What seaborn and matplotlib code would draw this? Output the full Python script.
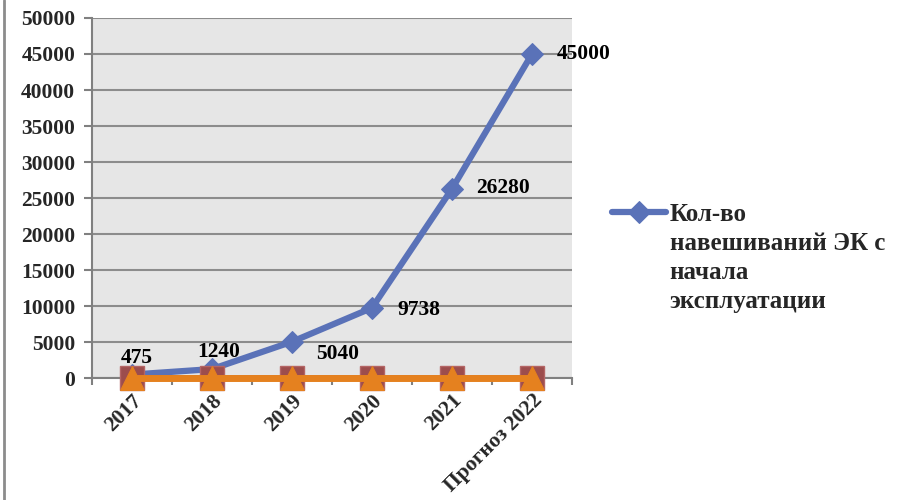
import matplotlib
matplotlib.use("Agg")
import matplotlib.pyplot as plt
from matplotlib.lines import Line2D
from matplotlib.font_manager import FontProperties
import seaborn as sns
import pandas as pd

# Chart data
categories = ["2017", "2018", "2019", "2020", "2021", "Прогноз 2022"]
hangings_total = [475, 1240, 5040, 9738, 26280, 45000]
series_2 = [0, 0, 0, 0, 0, 0]
series_3 = [0, 0, 0, 0, 0, 0]
legend_label = "Кол-во\nнавешиваний ЭК с\nначала\nэксплуатации"
y_ticks = list(range(0, 50001, 5000))

# label offsets in pixels (Excel-like placement)
label_offsets = [(5, 17), (7, 17), (46, -12), (47, -2), (51, 1), (52, 0)]

sns.set_theme(style="white")
plt.rcParams["font.family"] = ["Liberation Serif", "DejaVu Serif"]
plt.rcParams["font.weight"] = "bold"

FS = 15.5
bold_font = FontProperties(family="Liberation Serif", weight="bold", size=FS)
legend_font = FontProperties(family="Liberation Serif", weight="bold", size=18)

pos = list(range(len(categories)))
df = pd.DataFrame({"x": pos, "total": hangings_total, "s2": series_2, "s3": series_3})

fig = plt.figure(figsize=(9.08, 5.0), dpi=100)
ax = fig.add_axes([92 / 908, 122 / 500, 480 / 908, 360 / 500])
ax.set_facecolor("#E6E6E6")

blue = "#5A72B8"
orange = "#E5811F"
brown = "#9C4D4D"

sns.lineplot(data=df, x="x", y="total", ax=ax, color=blue, linewidth=4.5,
             marker="D", markersize=11, markerfacecolor=blue,
             markeredgecolor=blue, label=legend_label, zorder=3, clip_on=False)
sns.lineplot(data=df, x="x", y="s2", ax=ax, color=brown, linewidth=4,
             marker="s", markersize=17, markerfacecolor=brown,
             markeredgecolor="#B46565", markeredgewidth=1, zorder=4,
             clip_on=False)
sns.lineplot(data=df, x="x", y="s3", ax=ax, color=orange, linewidth=5,
             marker="^", markersize=17, markerfacecolor=orange,
             markeredgecolor=orange, zorder=5, clip_on=False)

for xi, v, (dx, dy) in zip(pos, hangings_total, label_offsets):
    ax.annotate(str(v), (xi, v), xytext=(dx, dy), textcoords="offset pixels",
                ha="center", va="center", fontproperties=bold_font,
                color="black", zorder=6, annotation_clip=False)

ax.set_xlim(-0.5, len(categories) - 0.5)
ax.set_ylim(0, 50000)
ax.set_yticks(y_ticks)
ax.set_yticklabels([str(t) for t in y_ticks], fontproperties=bold_font)
ax.set_xticks(pos)
ax.set_xticklabels(categories, rotation=45, ha="right", rotation_mode="anchor",
                   fontproperties=bold_font)
ax.set_xticks([p - 0.5 for p in pos] + [len(categories) - 0.5], minor=True)
ax.tick_params(axis="x", which="major", length=0, pad=9)
ax.tick_params(axis="x", which="minor", length=5, width=1.5, color="#808080",
               direction="out", bottom=True)
ax.tick_params(axis="y", length=6, width=1.5, color="#808080",
               direction="out", left=True, pad=6)
ax.grid(axis="y", color="#8C8C8C", linewidth=1.5)
ax.set_axisbelow(True)
ax.set_xlabel("")
ax.set_ylabel("")

for side in ["top", "right"]:
    ax.spines[side].set_visible(False)
for side in ["left", "bottom"]:
    ax.spines[side].set_color("#808080")
    ax.spines[side].set_linewidth(1.5)

handles, labels = ax.get_legend_handles_labels()
leg = ax.legend(handles, labels, loc="upper left", bbox_to_anchor=(612 / 908, 1 - 203 / 500),
                bbox_transform=fig.transFigure, frameon=False,
                handlelength=2.15, handletextpad=0.15, borderaxespad=0,
                borderpad=0, prop=legend_font)
for t in leg.get_texts():
    t.set_fontproperties(legend_font)
    t.set_linespacing(1.34)
# put the legend key next to the first line of the label
for col in leg._legend_handle_box.get_children():
    for row in col.get_children():
        row.align = "top"

fig.add_artist(Line2D([3.5 / 908, 3.5 / 908], [0, 1], transform=fig.transFigure,
                      color="#8C8C8C", linewidth=2))

fig.savefig("out.png", dpi=100, facecolor="white")
